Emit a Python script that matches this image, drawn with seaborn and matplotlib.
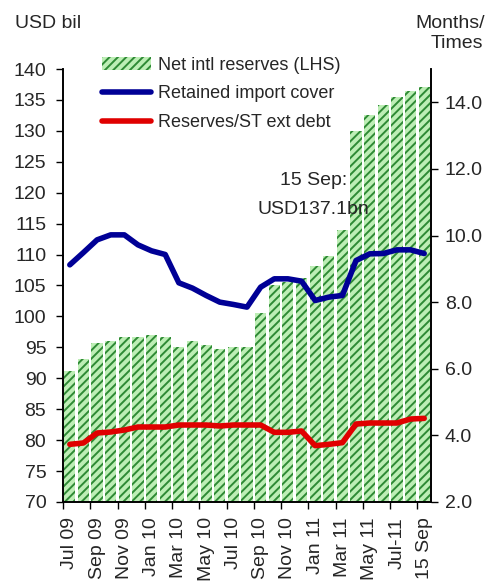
import numpy as np
import pandas as pd
import matplotlib
matplotlib.use("Agg")
import matplotlib.pyplot as plt
from matplotlib.patches import Patch
from matplotlib.lines import Line2D
import seaborn as sns

# Monthly series, Jul 2009 to 15 Sep 2011
months = ['Jul 09', 'Aug 09', 'Sep 09', 'Oct 09', 'Nov 09', 'Dec 09',
          'Jan 10', 'Feb 10', 'Mar 10', 'Apr 10', 'May 10', 'Jun 10',
          'Jul 10', 'Aug 10', 'Sep 10', 'Oct 10', 'Nov 10', 'Dec 10',
          'Jan 11', 'Feb 11', 'Mar 11', 'Apr 11', 'May 11', 'Jun 11',
          'Jul-11', 'Aug 11', '15 Sep']
tick_labels = ['Jul 09', 'Sep 09', 'Nov 09', 'Jan 10', 'Mar 10', 'May 10',
               'Jul 10', 'Sep 10', 'Nov 10', 'Jan 11', 'Mar 11', 'May 11',
               'Jul-11', '15 Sep']
reserves = [91.2, 93.1, 95.7, 96.0, 96.6, 96.6, 97.0, 96.6, 95.0, 96.0,
            95.4, 94.7, 95.0, 95.0, 100.5, 105.1, 105.6, 106.2, 108.1,
            109.7, 113.9, 130.0, 132.6, 134.2, 135.5, 136.5, 137.1]
import_cover = [9.12, 9.49, 9.87, 10.02, 10.02, 9.72, 9.54, 9.43, 8.58,
                8.42, 8.20, 8.00, 7.93, 7.85, 8.45, 8.70, 8.70, 8.63, 8.05,
                8.15, 8.20, 9.25, 9.45, 9.46, 9.57, 9.57, 9.46]
reserves_st_debt = [3.73, 3.77, 4.07, 4.10, 4.16, 4.25, 4.25, 4.25, 4.31,
                    4.31, 4.31, 4.28, 4.31, 4.31, 4.31, 4.09, 4.09, 4.13,
                    3.69, 3.73, 3.78, 4.34, 4.37, 4.37, 4.37, 4.49, 4.51]

sns.set_style("white")
plt.rcParams['font.family'] = ['Liberation Sans', 'DejaVu Sans']
plt.rcParams['hatch.linewidth'] = 1.4

BAR_FILL = '#bdeeb5'
BAR_HATCH = '#2e8a34'
BLUE = '#000096'
RED = '#e00000'
FS = 14

df = pd.DataFrame({'month': months, 'reserves': reserves,
                   'cover': import_cover, 'st_debt': reserves_st_debt})
df['pos'] = np.arange(len(df))

fig = plt.figure(figsize=(4.98, 5.85), dpi=100)
ax = fig.add_axes([0.1265, 0.142, 0.739, 0.740])

sns.barplot(data=df, x='month', y='reserves', order=months, color=BAR_FILL,
            saturation=1, width=0.82, ax=ax, zorder=2)
for p in ax.patches:
    p.set_facecolor(BAR_FILL)
    p.set_edgecolor(BAR_HATCH)
    p.set_linewidth(0)
    p.set_hatch('////')

ax.set_ylim(70, 140)
ax.set_xlim(-0.5, len(months) - 0.5)
ax.set_yticks(np.arange(70, 141, 5))
ax.set_xlabel('')
ax.set_ylabel('')

label_pos = list(range(0, 26, 2)) + [26]
ax.set_xticks(label_pos)
ax.set_xticklabels(tick_labels, rotation=90, fontsize=FS)
ax.set_xticks(np.arange(-0.5, 26, 2), minor=True)
ax.tick_params(axis='x', which='major', length=0, pad=11)
ax.tick_params(axis='x', which='minor', length=5, width=1, direction='out',
               color='black', bottom=True)
ax.tick_params(axis='y', length=5, width=1, direction='out', color='black',
               labelsize=FS, left=True, pad=7)

ax2 = ax.twinx()
sns.lineplot(data=df, x='pos', y='cover', ax=ax2, color=BLUE, lw=4,
             sort=False, solid_capstyle='round', solid_joinstyle='round')
sns.lineplot(data=df, x='pos', y='st_debt', ax=ax2, color=RED, lw=4,
             sort=False, solid_capstyle='round', solid_joinstyle='round')
ax2.set_ylim(2, 15)
ax2.set_yticks(np.arange(2, 15, 2))
ax2.set_yticklabels([f'{v:.1f}' for v in np.arange(2, 15, 2)])
ax2.set_xlim(-0.5, len(months) - 0.5)
ax2.set_xlabel('')
ax2.set_ylabel('')
ax2.tick_params(axis='y', length=5, width=1, direction='out', color='black',
                labelsize=FS, right=True, pad=5)

for a in (ax, ax2):
    for side in ('left', 'right', 'bottom'):
        a.spines[side].set_visible(True)
        a.spines[side].set_color('black')
        a.spines[side].set_linewidth(1.2)
    a.spines['top'].set_visible(False)
    a.grid(False)

# Axis titles
fig.text(0.030, 0.960, 'USD bil', fontsize=FS, ha='left', va='center')
fig.text(450 / 498, 1 - 23 / 585, 'Months/', fontsize=FS, ha='center',
         va='center')
fig.text(457 / 498, 1 - 44 / 585, 'Times', fontsize=FS, ha='center',
         va='center')

# Latest value note
ax.text(17.9, 119.6, '15 Sep:\nUSD137.1bn', fontsize=FS, ha='center',
        va='center', linespacing=1.9, zorder=5)

handles = [Patch(facecolor=BAR_FILL, edgecolor=BAR_HATCH, hatch='////', lw=0),
           Line2D([], [], color=BLUE, lw=4, solid_capstyle='round'),
           Line2D([], [], color=RED, lw=4, solid_capstyle='round')]
labels = ['Net intl reserves (LHS)', 'Retained import cover',
          'Reserves/ST ext debt']
leg = ax2.legend(handles, labels, loc='upper left',
                 bbox_to_anchor=(0.205, 0.903), bbox_transform=fig.transFigure,
                 frameon=False, fontsize=13, handlelength=2.7,
                 handletextpad=0.42, labelspacing=0.65, borderpad=0,
                 borderaxespad=0)

fig.savefig('out.png', dpi=100)
